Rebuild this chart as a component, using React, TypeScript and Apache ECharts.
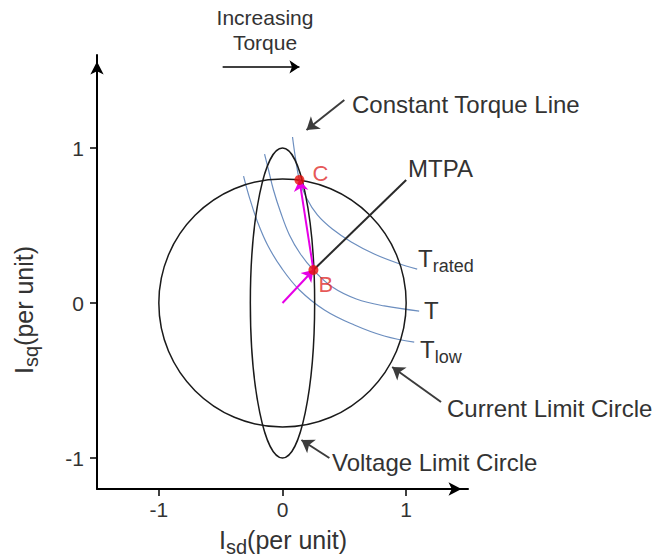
import React, { useEffect, useRef } from 'react';
import * as echarts from 'echarts';

const FONT = '"Liberation Sans", Arial, Helvetica, sans-serif';

// Axis ranges and tick positions (per unit)
const xRange = [-1.5, 1.5];
const yRange = [-1.2, 1.6];
const tickValues = [-1, 0, 1];

// Limit loci: [centre isd, centre isq, half-width, half-height]
const currentLimitCircle = [0, 0, 1.0, 0.8];
const voltageLimitCircle = [0, 0, 0.26, 1.0];

// Constant-torque curves (isd, isq)
const torqueRated = [
  [0.081, 1.071], [0.105, 0.935], [0.137, 0.794], [0.194, 0.677], [0.282, 0.568],
  [0.403, 0.477], [0.556, 0.394], [0.742, 0.316], [0.927, 0.258], [1.089, 0.219],
];
const torqueMid = [
  [-0.145, 0.961], [-0.113, 0.858], [-0.073, 0.729], [-0.016, 0.587], [0.056, 0.439],
  [0.145, 0.316], [0.25, 0.213], [0.403, 0.103], [0.597, 0.026], [0.823, -0.019], [1.105, -0.052],
];
const torqueLow = [
  [-0.315, 0.819], [-0.266, 0.677], [-0.202, 0.523], [-0.121, 0.374], [-0.008, 0.226],
  [0.137, 0.084], [0.339, -0.045], [0.581, -0.142], [0.823, -0.213], [1.065, -0.252],
];

// Operating points
const origin = [0, 0];
const pointB = [0.25, 0.213];
const pointC = [0.137, 0.794];
const mtpaEnd = [1.0, 0.794];

const BLUE = '#6c8ebf';
const MAGENTA = '#e600e6';
const RED = '#e8120c';
const TEXT = '#333333';
const INK = '#1a1a1a';

function buildOption() {
  const ellipseItem = (_params: any, api: any) => {
    const c = api.coord([api.value(0), api.value(1)]);
    const s = api.size([api.value(2), api.value(3)]);
    return {
      type: 'ellipse',
      shape: { cx: c[0], cy: c[1], rx: s[0], ry: s[1] },
      style: { fill: 'none', stroke: INK, lineWidth: 1.5 },
    };
  };

  const torqueSeries = (data: number[][]) => ({
    type: 'line',
    data,
    smooth: 0.4,
    showSymbol: false,
    silent: true,
    lineStyle: { color: BLUE, width: 1.2 },
    z: 2,
  });

  const arrowLines = (color: string, width: number, size: number, data: any[]) => ({
    type: 'line',
    data: [],
    silent: true,
    markLine: {
      silent: true,
      animation: false,
      symbol: ['none', 'arrow'],
      symbolSize: size,
      label: { show: false },
      emphasis: { disabled: true },
      lineStyle: { color, width, type: 'solid', opacity: 1 },
      data,
    },
    z: 4,
  });

  const richSub = (mainSize: number, subSize: number) => ({
    m: { fontSize: mainSize, fontFamily: FONT, color: TEXT, lineHeight: 34, verticalAlign: 'middle' },
    s: { fontSize: subSize, fontFamily: FONT, color: TEXT, lineHeight: subSize, verticalAlign: 'bottom' },
  });

  const label = (text: string, x: number, y: number, size: number, align = 'left') => ({
    type: 'text',
    x,
    y,
    silent: true,
    style: {
      text,
      fill: TEXT,
      fontSize: size,
      fontFamily: FONT,
      align,
      textAlign: align,
      verticalAlign: 'middle',
      textVerticalAlign: 'middle',
    },
  });

  // main letter, subscript, optional trailing text at main size
  const richLabel = (
    main: string, s: string, tail: string,
    x: number, y: number, mainSize: number, subSize: number, rotation = 0,
  ) => ({
    type: 'text',
    x,
    y,
    rotation,
    silent: true,
    style: {
      text: `{m|${main}}{s|${s}}` + (tail ? `{m|${tail}}` : ''),
      rich: richSub(mainSize, subSize),
      fill: TEXT,
      fontFamily: FONT,
      align: 'left',
      textAlign: 'left',
      verticalAlign: 'middle',
      textVerticalAlign: 'middle',
    },
  });

  const axisCommon = {
    type: 'value',
    splitLine: { show: false },
    axisLine: {
      show: true,
      onZero: false,
      symbol: ['none', 'arrow'],
      symbolSize: [10, 13],
      symbolOffset: [0, -6.5],
      lineStyle: { color: '#000', width: 2 },
    },
    axisTick: { show: true, customValues: tickValues, length: 7, lineStyle: { color: '#000', width: 1.5 } },
    axisLabel: { customValues: tickValues, fontSize: 21, fontFamily: FONT, color: TEXT },
  };

  return {
    animation: false,
    backgroundColor: '#ffffff',
    grid: { left: 97, right: 192, top: 55, bottom: 69 },
    xAxis: {
      ...axisCommon,
      min: xRange[0],
      max: xRange[1],
      axisLabel: { ...axisCommon.axisLabel, margin: 10 },
    },
    yAxis: {
      ...axisCommon,
      min: yRange[0],
      max: yRange[1],
      axisLabel: { ...axisCommon.axisLabel, margin: 13 },
    },
    series: [
      {
        type: 'custom',
        renderItem: ellipseItem,
        data: [currentLimitCircle, voltageLimitCircle],
        encode: { x: 0, y: 1 },
        clip: false,
        silent: true,
        z: 3,
      },
      torqueSeries(torqueRated),
      torqueSeries(torqueMid),
      torqueSeries(torqueLow),
      // MTPA line from B
      {
        type: 'line',
        data: [pointB, mtpaEnd],
        showSymbol: false,
        silent: true,
        lineStyle: { color: '#2a2a2a', width: 2 },
        z: 3,
      },
      // current trajectory O -> B -> C
      arrowLines(MAGENTA, 2, 11, [
        [{ coord: origin }, { coord: pointB }],
        [{ coord: pointB, lineStyle: { curveness: -0.1 } }, { coord: pointC }],
      ]),
      // annotation pointers
      arrowLines('#3c3c3c', 2, 12, [
        [{ coord: [0.5, 1.31] }, { coord: [0.194, 1.116] }],
        [{ coord: [1.282, -0.639] }, { coord: [0.887, -0.413] }],
        [{ coord: [0.379, -1.0] }, { coord: [0.153, -0.884] }],
      ]),
      arrowLines('#000', 1.5, 10, [
        [{ coord: [-0.484, 1.523] }, { coord: [0.137, 1.523] }],
      ]),
      {
        type: 'scatter',
        symbol: 'circle',
        symbolSize: 10,
        silent: true,
        itemStyle: { color: RED },
        z: 6,
        label: {
          show: true,
          formatter: '{b}',
          position: 'right',
          color: '#e02b2b',
          fontSize: 22,
          fontFamily: FONT,
        },
        data: [
          { name: 'B', value: pointB, label: { distance: 0, offset: [0, 15] } },
          { name: 'C', value: pointC, label: { distance: 8, offset: [0, -6] } },
        ],
      },
    ],
    graphic: [
      label('Increasing', 265, 17, 21, 'center'),
      label('Torque', 265, 42, 21, 'center'),
      label('Constant Torque Line', 352, 104, 24),
      label('MTPA', 408, 168, 24),
      richLabel('T', 'rated', '', 418, 258, 24, 18),
      label('T', 424, 310, 24),
      richLabel('T', 'low', '', 420, 349, 24, 18),
      label('Current Limit Circle', 447, 408, 24),
      label('Voltage Limit Circle', 332, 462, 24),
      richLabel('I', 'sd', '(per unit)', 219, 540, 25, 20),
      richLabel('I', 'sq', '(per unit)', 24, 374, 25, 20, Math.PI / 2),
    ],
  };
}

export default function App() {
  const ref = useRef<HTMLDivElement>(null);

  useEffect(() => {
    if (!ref.current) return;
    const chart = echarts.init(ref.current, null, { renderer: 'svg' });
    chart.setOption(buildOption() as any);
    return () => chart.dispose();
  }, []);

  return (
    <div
      ref={ref}
      style={{ position: 'absolute', left: 0, top: 0, width: 660, height: 558, background: '#fff' }}
    />
  );
}
